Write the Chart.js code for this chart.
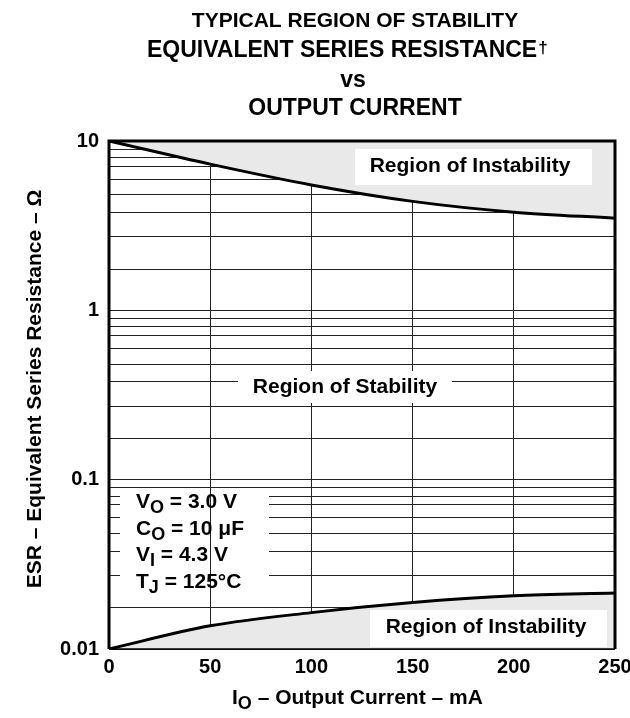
<!DOCTYPE html>
<html>
<head>
<meta charset="utf-8">
<script src="https://cdn.jsdelivr.net/npm/chart.js@4"></script>
<style>
    html, body { margin: 0; padding: 0; background: #fff; }
    #wrap { width: 630px; height: 718px; }
</style>
</head>
<body>
<div id="wrap"><canvas id="grafico"></canvas></div>
<script>
// output current (mA) and the two stability boundaries (ohm)
const currentMa = [0, 50, 100, 150, 200, 250]
const esrUpper = [10, 7.3, 5.5, 4.4, 3.8, 3.5]
const esrLower = [0.01, 0.0137, 0.0164, 0.0188, 0.0206, 0.0214]

const xTicks = [0, 50, 100, 150, 200, 250]
const yDecades = [0.01, 0.1, 1, 10]
// minor grid lines inside each decade, as drawn on the original sheet
const gridSteps = [1.75, 2.72, 3.78, 4.82, 5.95, 7.1, 8.0, 8.95]

const titleLines = ['TYPICAL REGION OF STABILITY', 'EQUIVALENT SERIES RESISTANCE', 'vs', 'OUTPUT CURRENT']
const conditions = [
    ['V', 'O', ' = 3.0 V'],
    ['C', 'O', ' = 10 \u03BCF'],
    ['V', 'I', ' = 4.3 V'],
    ['T', 'J', ' = 125\u00B0C']
]

const FONT = "'Liberation Sans', Arial, Helvetica, sans-serif"

function buildGridValues() {
    const values = []
    yDecades.forEach((d, i) => {
        values.push(d)
        if (i < yDecades.length - 1) {
            gridSteps.forEach(s => values.push(+(d * s).toPrecision(6)))
        }
    })
    return values
}

function isDecade(v) {
    return yDecades.some(d => Math.abs(Math.log10(v) - Math.log10(d)) < 1e-6)
}

function labelBox(ctx, text, cx, baseline, box) {
    ctx.fillStyle = '#fff'
    ctx.fillRect(box[0], box[1], box[2] - box[0], box[3] - box[1])
    ctx.fillStyle = '#000'
    ctx.font = 'bold 21px ' + FONT
    ctx.textAlign = 'center'
    ctx.textBaseline = 'alphabetic'
    ctx.fillText(text, cx, baseline)
}

function subText(ctx, x, y, main, sub, rest, size, subSize, drop) {
    ctx.textAlign = 'left'
    ctx.textBaseline = 'alphabetic'
    ctx.font = 'bold ' + size + 'px ' + FONT
    ctx.fillText(main, x, y)
    x += ctx.measureText(main).width
    ctx.font = 'bold ' + subSize + 'px ' + FONT
    ctx.fillText(sub, x, y + drop)
    x += ctx.measureText(sub).width
    ctx.font = 'bold ' + size + 'px ' + FONT
    ctx.fillText(rest, x, y)
}

const decorations = {
    id: 'decorations',
    afterDatasetsDraw(chart) {
        const ctx = chart.ctx
        const area = chart.chartArea
        const xs = chart.scales.x
        ctx.save()

        // region labels with white backing
        labelBox(ctx, 'Region of Instability', 470, 172, [355, 149, 592, 185])
        labelBox(ctx, 'Region of Stability', 345, 393, [238, 371, 452, 403])
        labelBox(ctx, 'Region of Instability', 486, 633, [370, 610, 607, 647])

        // test conditions
        ctx.fillStyle = '#fff'
        ctx.fillRect(120, 490, 149, 110)
        ctx.strokeStyle = '#222'
        ctx.lineWidth = 1
        const gx = Math.round(xs.getPixelForValue(50)) + 0.5
        ctx.beginPath()
        ctx.moveTo(gx, 490)
        ctx.lineTo(gx, 600)
        ctx.stroke()
        ctx.fillStyle = '#000'
        conditions.forEach((c, i) => {
            subText(ctx, 136, 508 + i * 26.7, c[0], c[1], c[2], 21, 18, 5)
        })

        // frame
        ctx.strokeStyle = '#000'
        ctx.lineWidth = 3
        ctx.beginPath()
        ctx.moveTo(area.left, area.bottom)
        ctx.lineTo(area.left, area.top)
        ctx.lineTo(area.right, area.top)
        ctx.lineTo(area.right, area.bottom)
        ctx.stroke()
        ctx.lineWidth = 1.5
        ctx.beginPath()
        ctx.moveTo(area.left, area.bottom)
        ctx.lineTo(area.right, area.bottom)
        ctx.stroke()

        // titles
        ctx.fillStyle = '#000'
        ctx.textBaseline = 'alphabetic'
        ctx.textAlign = 'center'
        ctx.font = 'bold 21px ' + FONT
        ctx.fillText(titleLines[0], 355, 27)
        ctx.textAlign = 'left'
        ctx.font = 'bold 23px ' + FONT
        ctx.fillText(titleLines[1], 147, 57)
        const w = ctx.measureText(titleLines[1]).width
        ctx.font = 'bold 17px ' + FONT
        ctx.fillText('\u2020', 147 + w + 1, 53)
        ctx.textAlign = 'center'
        ctx.font = 'bold 23px ' + FONT
        ctx.fillText(titleLines[2], 353, 87)
        ctx.fillText(titleLines[3], 355, 115)

        // x axis title
        subText(ctx, 232, 704, 'I', 'O', ' \u2013 Output Current \u2013 mA', 21, 18, 5)

        // y axis title
        ctx.translate(41, 389)
        ctx.rotate(-Math.PI / 2)
        ctx.textAlign = 'center'
        ctx.font = 'bold 21px ' + FONT
        ctx.fillText('ESR \u2013 Equivalent Series Resistance \u2013 \u03A9', 0, 0)

        ctx.restore()
    }
}

function createChart() {
    const ctx = document.getElementById('grafico').getContext('2d')
    const gridValues = buildGridValues()

    new Chart(ctx, {
        type: 'line',
        data: {
            datasets: [{
                data: currentMa.map((x, i) => ({ x: x, y: esrUpper[i] })),
                borderColor: '#000',
                borderWidth: 3,
                backgroundColor: '#e9e9e9',
                fill: 'end',
                cubicInterpolationMode: 'monotone',
                pointRadius: 0
            }, {
                data: currentMa.map((x, i) => ({ x: x, y: esrLower[i] })),
                borderColor: '#000',
                borderWidth: 3,
                backgroundColor: '#e9e9e9',
                fill: 'start',
                cubicInterpolationMode: 'monotone',
                pointRadius: 0
            }]
        },
        options: {
            responsive: true,
            maintainAspectRatio: false,
            animation: false,
            layout: {
                padding: { top: 141, right: 15, left: 0, bottom: 0 }
            },
            plugins: {
                legend: { display: false },
                title: { display: false },
                tooltip: { enabled: false }
            },
            scales: {
                x: {
                    type: 'linear',
                    min: 0,
                    max: 250,
                    afterBuildTicks: scale => {
                        scale.ticks = xTicks.map(v => ({ value: v }))
                    },
                    afterFit: scale => {
                        scale.height = 69
                        scale.paddingLeft = 0
                        scale.paddingRight = 0
                    },
                    ticks: {
                        color: '#000',
                        font: { family: FONT, size: 20, weight: 'bold' },
                        padding: 6,
                        maxRotation: 0,
                        autoSkip: false
                    },
                    grid: {
                        color: '#222',
                        lineWidth: 1,
                        drawTicks: false
                    },
                    border: { display: false }
                },
                y: {
                    type: 'logarithmic',
                    min: 0.01,
                    max: 10,
                    afterBuildTicks: scale => {
                        scale.ticks = gridValues.map(v => ({ value: v }))
                    },
                    afterFit: scale => {
                        scale.width = 109
                        scale.paddingTop = 0
                        scale.paddingBottom = 0
                    },
                    ticks: {
                        color: '#000',
                        font: { family: FONT, size: 20, weight: 'bold' },
                        padding: 10,
                        autoSkip: false,
                        callback: value => isDecade(value) ? String(value) : ''
                    },
                    grid: {
                        color: '#222',
                        lineWidth: 1,
                        drawTicks: false
                    },
                    border: { display: false }
                }
            }
        },
        plugins: [decorations]
    })
}

createChart()
</script>
</body>
</html>
